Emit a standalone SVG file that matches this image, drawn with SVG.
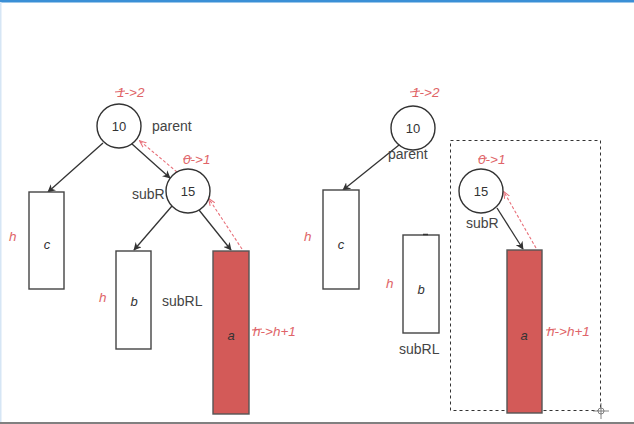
<svg xmlns="http://www.w3.org/2000/svg" width="634" height="424" viewBox="0 0 634 424">
<style>
.node{fill:#fff;stroke:#333;stroke-width:1.4}
.box{fill:#fff;stroke:#444;stroke-width:1.4}
.red{fill:#d35a58;stroke:#555;stroke-width:1.4}
.num{font-family:"Liberation Sans",Arial,sans-serif;font-size:13px;fill:#333;text-anchor:middle}
.lbl{font-family:"Liberation Sans",Arial,sans-serif;font-size:14px;fill:#444}
.it{font-family:"Liberation Sans",Arial,sans-serif;font-size:13px;font-style:italic;fill:#333;text-anchor:middle}
.rl{font-family:"Liberation Sans",Arial,sans-serif;font-size:13.5px;font-style:italic;fill:#e06468}
.edge{stroke:#333;stroke-width:1.3;fill:none;marker-end:url(#ah)}
.back{stroke:#e8707a;stroke-width:1.1;stroke-dasharray:3 2;fill:none;marker-end:url(#rh)}
.strike{stroke:#e06468;stroke-width:1.2}
</style>
<defs>
<marker id="ah" viewBox="0 0 10 10" refX="9" refY="5" markerWidth="8" markerHeight="8" orient="auto" markerUnits="userSpaceOnUse">
<path d="M0,0 L10,5 L0,10 L3,5 z" fill="#333"/>
</marker>
<marker id="rh" viewBox="0 0 10 10" refX="9" refY="5" markerWidth="7" markerHeight="7" orient="auto" markerUnits="userSpaceOnUse">
<path d="M0,1 L10,5 L0,9" fill="none" stroke="#e8707a" stroke-width="1.5"/>
</marker>
</defs>
<rect x="0" y="0" width="634" height="424" fill="#fff"/>
<rect x="0" y="0" width="634" height="2.5" fill="#3a8fd6"/>
<rect x="0" y="2" width="1.5" height="420" fill="#d6e6f5"/>
<rect x="0" y="422" width="634" height="2" fill="#808080"/>

<g id="connectors">
<line class="edge" x1="103" y1="143" x2="48" y2="192"/>
<line class="edge" x1="132" y1="144" x2="170" y2="178"/>
<line class="back" x1="177" y1="172" x2="140" y2="141"/>
<line class="edge" x1="172" y1="206" x2="134" y2="250"/>
<line class="edge" x1="199" y1="210" x2="231" y2="250"/>
<line class="back" x1="242" y1="249" x2="209" y2="199"/>
<line class="edge" x1="399" y1="145" x2="343" y2="190"/>
<line class="edge" x1="497" y1="208" x2="523" y2="249"/>
<line class="back" x1="536" y1="248" x2="504" y2="192"/>
</g>

<g id="left-10">
<circle class="node" cx="119" cy="126" r="22"/>
<text class="num" x="119" y="131">10</text>
<text class="lbl" x="152" y="131">parent</text>
<text class="rl" x="117" y="97">1-&gt;2</text>
<line class="strike" x1="115" y1="92" x2="125" y2="91"/>
</g>
<g id="left-15">
<circle class="node" cx="188" cy="191" r="22"/>
<text class="num" x="188" y="196">15</text>
<text class="lbl" x="132" y="199">subR</text>
<text class="rl" x="183" y="164">0-&gt;1</text>
<line class="strike" x1="183" y1="159" x2="192" y2="158"/>
</g>
<g id="left-c">
<rect class="box" x="29" y="192" width="35" height="97"/>
<text class="it" x="47" y="249">c</text>
<text class="rl" x="9" y="241">h</text>
</g>
<g id="left-b">
<rect class="box" x="116" y="251" width="35" height="98"/>
<text class="it" x="134" y="306">b</text>
<text class="rl" x="99" y="302">h</text>
<text class="lbl" x="162" y="306">subRL</text>
</g>
<g id="left-a">
<rect class="red" x="213" y="251" width="36" height="163"/>
<text class="it" x="231" y="340">a</text>
<text class="rl" x="253" y="336">h-&gt;h+1</text>
<line class="strike" x1="252" y1="330" x2="262" y2="329"/>
</g>

<g id="right-10">
<circle class="node" cx="413" cy="128" r="22"/>
<text class="num" x="413" y="133">10</text>
<text class="lbl" x="388" y="159">parent</text>
<text class="rl" x="412" y="97">1-&gt;2</text>
<line class="strike" x1="410" y1="92" x2="420" y2="91"/>
</g>
<g id="right-c">
<rect class="box" x="323" y="190" width="36" height="99"/>
<text class="it" x="341" y="249">c</text>
<text class="rl" x="304" y="241">h</text>
</g>
<g id="right-b">
<rect class="box" x="403" y="235" width="36" height="98"/>
<line x1="423" y1="234.5" x2="428" y2="234.5" stroke="#333" stroke-width="1.5"/>
<text class="it" x="421" y="294">b</text>
<text class="rl" x="386" y="288">h</text>
<text class="lbl" x="399" y="354">subRL</text>
</g>
<g id="right-group">
<rect x="450.5" y="140.5" width="150" height="270" fill="none" stroke="#333" stroke-width="1" stroke-dasharray="3 3"/>
</g>
<g id="right-15">
<circle class="node" cx="481" cy="191" r="22"/>
<text class="num" x="481" y="196">15</text>
<text class="lbl" x="466" y="228">subR</text>
<text class="rl" x="478" y="164">0-&gt;1</text>
<line class="strike" x1="478" y1="159" x2="487" y2="158"/>
</g>
<g id="right-a">
<rect class="red" x="507" y="250" width="35" height="163"/>
<text class="it" x="524" y="340">a</text>
<text class="rl" x="547" y="336">h-&gt;h+1</text>
<line class="strike" x1="546" y1="330" x2="556" y2="329"/>
</g>
<g id="cursor">
<circle cx="601" cy="411" r="3" fill="#fff" stroke="#666" stroke-width="0.8"/>
<line x1="601" y1="403" x2="601" y2="419" stroke="#666" stroke-width="0.8"/>
<line x1="593" y1="411" x2="609" y2="411" stroke="#666" stroke-width="0.8"/>
</g>
</svg>
